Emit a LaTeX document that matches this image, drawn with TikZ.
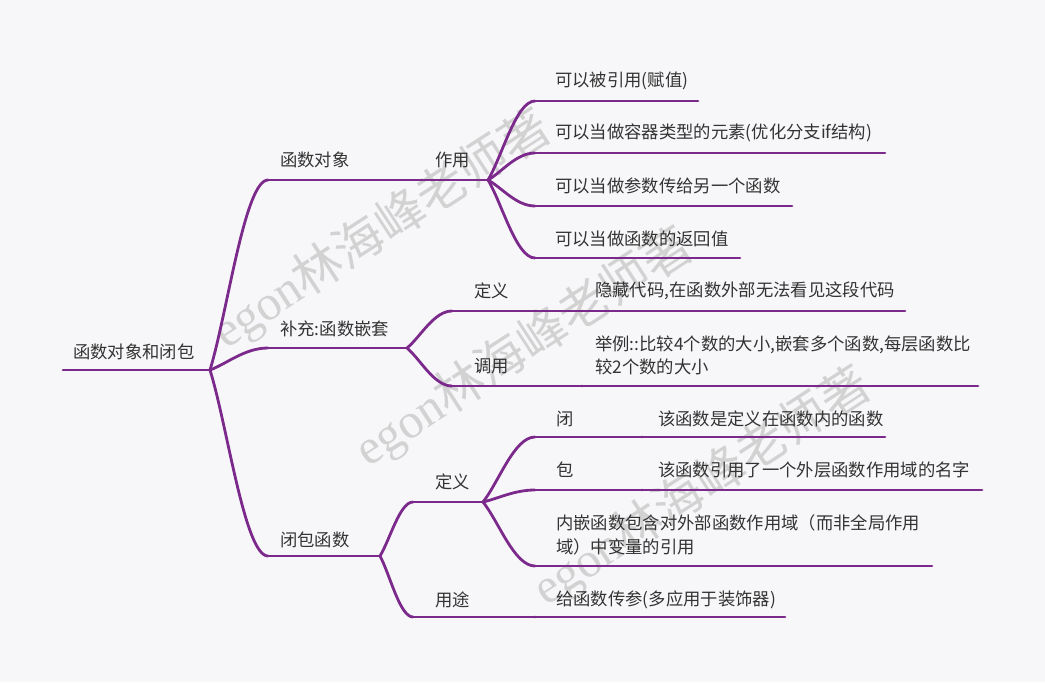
\documentclass[tikz,border=0pt]{standalone}
\usepackage{fontspec}
\setmainfont{Noto Sans CJK SC}
\newfontfamily\wmserif{Liberation Serif}
\newfontfamily\wmcjk{Noto Sans CJK SC}
\usetikzlibrary{calc}
\definecolor{bgc}{RGB}{247,247,249}
\definecolor{linec}{RGB}{123,42,140}
\definecolor{txtc}{RGB}{51,51,51}
\definecolor{wmc}{RGB}{210,210,210}
\tikzset{
  lbl/.style={anchor=west, inner sep=0pt, text=txtc, font=\fontsize{13}{17.5}\selectfont},
  lbl2/.style={lbl, align=left},
  uline/.style={draw=linec, line width=2.1pt, line cap=round},
  conn/.style={draw=linec, line width=2.1pt, line cap=round,
    to path={let \p1=(\tikztostart), \p2=(\tikztotarget) in
      .. controls ({\x1+0.3*(\x2-\x1)},{\y1+0.3*(\y2-\y1)}) and ({\x1+0.6*(\x2-\x1)},\y2) .. (\tikztotarget)}},
  wm/.style={text=wmc, rotate=33, inner sep=0pt, font=\fontsize{37}{37}\selectfont}
}
\begin{document}
\begin{tikzpicture}[x=0.75pt, y=-0.75pt]
\fill[bgc] (0,0) rectangle (1045,682);
\useasboundingbox (0,0) rectangle (1045,682);

% watermarks
\node[wm] (wm1) at (382,230) {{\wmserif egon}{\wmcjk 林海峰老师著}};
\node[wm] (wm2) at (524,348) {{\wmserif egon}{\wmcjk 林海峰老师著}};
\node[wm] (wm3) at (702,487) {{\wmserif egon}{\wmcjk 林海峰老师著}};

% root
\coordinate (root-s) at (63,370); \coordinate (root-e) at (210,370);
\node[lbl] (root) at (73,352) {函数对象和闭包};

% level 1
\coordinate (fo-s) at (268,180); \coordinate (fo-e) at (422,180);
\node[lbl] (fo) at (280,160) {函数对象};
\coordinate (bc-s) at (268,348); \coordinate (bc-e) at (407,348);
\node[lbl] (bc) at (280,329) {补充:函数嵌套};
\coordinate (bb-s) at (268,556); \coordinate (bb-e) at (380,556);
\node[lbl] (bb) at (280,540) {闭包函数};

% 作用
\coordinate (zy-s) at (422,180); \coordinate (zy-e) at (488,180);
\node[lbl] (zy) at (435,160) {作用};
\coordinate (c1-s) at (535,101); \coordinate (c1-e) at (698,101);
\node[lbl] (c1) at (555,81) {可以被引用(赋值)};
\coordinate (c2-s) at (535,153); \coordinate (c2-e) at (885,153);
\node[lbl] (c2) at (555,133) {可以当做容器类型的元素(优化分支if结构)};
\coordinate (c3-s) at (535,206); \coordinate (c3-e) at (792,206);
\node[lbl] (c3) at (555,186) {可以当做参数传给另一个函数};
\coordinate (c4-s) at (535,258); \coordinate (c4-e) at (740,258);
\node[lbl] (c4) at (555,239) {可以当做函数的返回值};

% 补充:函数嵌套 children
\coordinate (da-s) at (452,311); \coordinate (da-e) at (582,311);
\node[lbl] (da) at (474,291) {定义};
\coordinate (dac-s) at (582,311); \coordinate (dac-e) at (905,311);
\node[lbl] (dac) at (595,291) {隐藏代码,在函数外部无法看见这段代码};
\coordinate (dy-s) at (452,386); \coordinate (dy-e) at (582,386);
\node[lbl] (dy) at (474,366) {调用};
\coordinate (dyc-s) at (582,386); \coordinate (dyc-e) at (978,386);
\node[lbl2] (dyc) at (595,355.5) {举例::比较4个数的大小,嵌套多个函数,每层函数比\\较2个数的大小};

% 闭包函数 children
\coordinate (db-s) at (413,502); \coordinate (db-e) at (483,502);
\node[lbl] (db) at (435,482) {定义};
\coordinate (bi-s) at (535,437); \coordinate (bi-e) at (642,437);
\node[lbl] (bi) at (556,419) {闭};
\coordinate (bic-s) at (642,437); \coordinate (bic-e) at (885,437);
\node[lbl] (bic) at (658,419) {该函数是定义在函数内的函数};
\coordinate (bao-s) at (535,490); \coordinate (bao-e) at (642,490);
\node[lbl] (bao) at (556,470) {包};
\coordinate (baoc-s) at (642,490); \coordinate (baoc-e) at (982,490);
\node[lbl] (baoc) at (658,470) {该函数引用了一个外层函数作用域的名字};
\coordinate (nq-s) at (535,566); \coordinate (nq-e) at (932,566);
\node[lbl2] (nq) at (556,535) {内嵌函数包含对外部函数作用域（而非全局作用\\域）中变量的引用};
\coordinate (yt-s) at (413,617); \coordinate (yt-e) at (535,617);
\node[lbl] (yt) at (435,600) {用途};
\coordinate (ytc-s) at (535,617); \coordinate (ytc-e) at (785,617);
\node[lbl] (ytc) at (556,600) {给函数传参(多应用于装饰器)};

% underlines
\foreach \n in {root,fo,bc,bb,zy,c1,c2,c3,c4,da,dac,dy,dyc,db,bi,bic,bao,baoc,nq,yt,ytc}
  \draw[uline] (\n-s) -- (\n-e);

% connectors
\draw[conn] (root-e) to (fo-s);
\draw[conn] (root-e) to (bc-s);
\draw[conn] (root-e) to (bb-s);
\draw[conn] (fo-e) to (zy-s);
\draw[conn] (zy-e) to (c1-s);
\draw[conn] (zy-e) to (c2-s);
\draw[conn] (zy-e) to (c3-s);
\draw[conn] (zy-e) to (c4-s);
\draw[conn] (bc-e) to (da-s);
\draw[conn] (bc-e) to (dy-s);
\draw[conn] (da-e) to (dac-s);
\draw[conn] (dy-e) to (dyc-s);
\draw[conn] (bb-e) to (db-s);
\draw[conn] (bb-e) to (yt-s);
\draw[conn] (db-e) to (bi-s);
\draw[conn] (db-e) to (bao-s);
\draw[conn] (db-e) to (nq-s);
\draw[conn] (bi-e) to (bic-s);
\draw[conn] (bao-e) to (baoc-s);
\draw[conn] (yt-e) to (ytc-s);
\end{tikzpicture}
\end{document}
